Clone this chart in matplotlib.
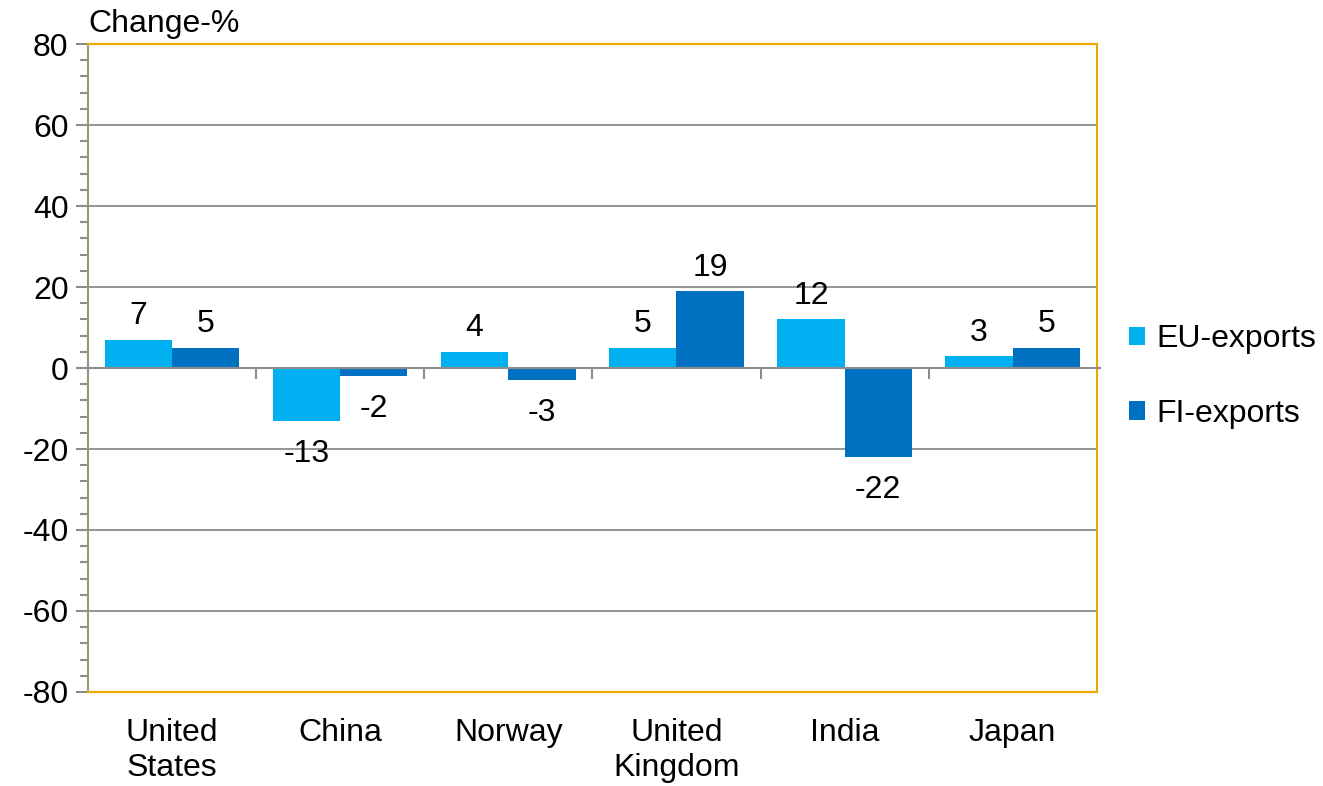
import matplotlib.pyplot as plt
import numpy as np
from matplotlib.ticker import MultipleLocator

plt.rcParams['font.family'] = ['Liberation Sans', 'DejaVu Sans']
plt.rcParams['axes.unicode_minus'] = False

countries = ['United\nStates', 'China', 'Norway', 'United\nKingdom', 'India', 'Japan']
eu_exports = [7, -13, 4, 5, 12, 3]
fi_exports = [5, -2, -3, 19, -22, 5]

eu_color = '#00b0f0'
fi_color = '#0070c0'
frame = '#f0a800'
grid = '#8c8c8c'
fs = 23

fig = plt.figure(figsize=(13.23, 7.86), dpi=100)
ax = fig.add_axes([0.0665, 0.1196, 0.7625, 0.8244])

x = np.arange(len(countries))
w = 0.4
ax.bar(x - w / 2, eu_exports, w, color=eu_color, label='EU-exports', zorder=3)
ax.bar(x + w / 2, fi_exports, w, color=fi_color, label='FI-exports', zorder=3)

# value labels
for xs, vals in [(x - w / 2, eu_exports), (x + w / 2, fi_exports)]:
    for xi, v in zip(xs, vals):
        ax.annotate(str(v), (xi, v), xytext=(0, 6 if v >= 0 else -13), textcoords='offset points',
                    ha='center', va='bottom' if v >= 0 else 'top', fontsize=fs)

ax.set_xlim(-0.5, len(countries) - 0.5)
ax.set_ylim(-80, 80)
ax.yaxis.set_major_locator(MultipleLocator(20))
ax.yaxis.set_minor_locator(MultipleLocator(4))
ax.grid(axis='y', color=grid, linewidth=1.3, zorder=0)

# zero axis line with category separators
ax.plot([-0.5, len(countries) - 0.5 + 0.02], [0, 0], color=grid, lw=1.5, zorder=4, clip_on=False)
for b in np.arange(0.5, len(countries) - 0.5, 1):
    ax.plot([b, b], [0, -2.4], color=grid, lw=1.5, zorder=4)

for s in ['top', 'right', 'bottom']:
    ax.spines[s].set_color(frame)
    ax.spines[s].set_linewidth(1.5)
ax.spines['left'].set_color('#a09080')
ax.spines['left'].set_linewidth(1.5)

ax.set_xticks(x)
ax.set_xticklabels(countries, fontsize=fs, linespacing=1.2)
ax.tick_params(axis='x', length=0, pad=19)
ax.tick_params(axis='y', which='major', labelsize=fs, length=9, width=1.5, color=grid, pad=5)
ax.tick_params(axis='y', which='minor', length=6, width=1.5, color=grid)

ax.text(0.0, 1.008, 'Change-%', transform=ax.transAxes, fontsize=fs, ha='left', va='bottom')

fig.legend(loc='center left', bbox_to_anchor=(0.832, 0.521), frameon=False, fontsize=fs,
           handlelength=0.5, handleheight=0.5, handletextpad=0.35, labelspacing=1.4)

fig.savefig('out.png', dpi=100)
